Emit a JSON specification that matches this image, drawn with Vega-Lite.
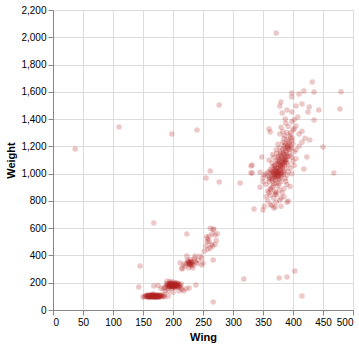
{
  "$schema": "https://vega.github.io/schema/vega-lite/v6.json",
  "width": 300,
  "height": 300,
  "data": {
    "values": [
      {"Wing":37,"Weight":1181},{"Wing":110,"Weight":1342},{"Wing":198,"Weight":1291},{"Wing":372,"Weight":2031},{"Wing":277,"Weight":1503},{"Wing":240,"Weight":1320},{"Wing":262,"Weight":1020},{"Wing":255,"Weight":968},{"Wing":312,"Weight":931},{"Wing":277,"Weight":939},{"Wing":318,"Weight":227},{"Wing":377,"Weight":235},{"Wing":390,"Weight":242},{"Wing":403,"Weight":286},{"Wing":415,"Weight":103},{"Wing":267,"Weight":59},{"Wing":468,"Weight":1004},{"Wing":330,"Weight":1056},{"Wing":330,"Weight":1004},{"Wing":335,"Weight":741},{"Wing":350,"Weight":733},{"Wing":480,"Weight":1600},{"Wing":478,"Weight":1474},{"Wing":432,"Weight":1672},{"Wing":450,"Weight":1195},
      {"Wing":152,"Weight":95},{"Wing":155,"Weight":100},{"Wing":157,"Weight":104},{"Wing":158,"Weight":98},{"Wing":160,"Weight":102},{"Wing":161,"Weight":108},{"Wing":162,"Weight":96},{"Wing":163,"Weight":100},{"Wing":164,"Weight":105},{"Wing":165,"Weight":110},{"Wing":166,"Weight":99},{"Wing":167,"Weight":103},{"Wing":168,"Weight":107},{"Wing":169,"Weight":95},{"Wing":170,"Weight":101},{"Wing":171,"Weight":104},{"Wing":172,"Weight":98},{"Wing":173,"Weight":108},{"Wing":174,"Weight":102},{"Wing":175,"Weight":96},{"Wing":176,"Weight":105},{"Wing":177,"Weight":100},{"Wing":178,"Weight":110},{"Wing":180,"Weight":103},{"Wing":182,"Weight":99},{"Wing":156,"Weight":110},{"Wing":159,"Weight":92},{"Wing":162,"Weight":112},{"Wing":165,"Weight":93},{"Wing":168,"Weight":114},{"Wing":171,"Weight":92},{"Wing":174,"Weight":112},{"Wing":177,"Weight":93},{"Wing":160,"Weight":97},{"Wing":163,"Weight":106},{"Wing":166,"Weight":104},{"Wing":169,"Weight":100},{"Wing":172,"Weight":105},{"Wing":175,"Weight":101},{"Wing":178,"Weight":97},{"Wing":161,"Weight":101},{"Wing":164,"Weight":98},{"Wing":167,"Weight":96},{"Wing":170,"Weight":107},{"Wing":173,"Weight":95},{"Wing":176,"Weight":99},{"Wing":179,"Weight":106},{"Wing":158,"Weight":106},{"Wing":165,"Weight":102},{"Wing":170,"Weight":97},{"Wing":154,"Weight":103},{"Wing":181,"Weight":108},{"Wing":184,"Weight":100},{"Wing":186,"Weight":96},{"Wing":150,"Weight":98},{"Wing":167,"Weight":118},{"Wing":185,"Weight":112},{"Wing":192,"Weight":103},
      {"Wing":158,"Weight":101},{"Wing":163,"Weight":103},{"Wing":168,"Weight":99},{"Wing":173,"Weight":101},{"Wing":160,"Weight":105},{"Wing":166,"Weight":107},{"Wing":171,"Weight":100},{"Wing":176,"Weight":103},{"Wing":162,"Weight":99},{"Wing":167,"Weight":101},{"Wing":172,"Weight":103},{"Wing":157,"Weight":99},
      {"Wing":188,"Weight":170},{"Wing":190,"Weight":180},{"Wing":192,"Weight":175},{"Wing":194,"Weight":185},{"Wing":195,"Weight":190},{"Wing":196,"Weight":170},{"Wing":197,"Weight":180},{"Wing":198,"Weight":195},{"Wing":199,"Weight":175},{"Wing":200,"Weight":185},{"Wing":201,"Weight":165},{"Wing":202,"Weight":190},{"Wing":203,"Weight":178},{"Wing":204,"Weight":200},{"Wing":205,"Weight":182},{"Wing":206,"Weight":170},{"Wing":207,"Weight":188},{"Wing":208,"Weight":176},{"Wing":209,"Weight":195},{"Wing":210,"Weight":180},{"Wing":192,"Weight":160},{"Wing":194,"Weight":195},{"Wing":196,"Weight":200},{"Wing":198,"Weight":160},{"Wing":200,"Weight":205},{"Wing":202,"Weight":170},{"Wing":204,"Weight":165},{"Wing":206,"Weight":198},{"Wing":208,"Weight":190},{"Wing":193,"Weight":182},{"Wing":195,"Weight":172},{"Wing":197,"Weight":192},{"Wing":199,"Weight":188},{"Wing":201,"Weight":178},{"Wing":203,"Weight":192},{"Wing":205,"Weight":172},{"Wing":207,"Weight":180},{"Wing":209,"Weight":168},{"Wing":191,"Weight":188},{"Wing":211,"Weight":185},{"Wing":212,"Weight":172},{"Wing":189,"Weight":192},{"Wing":186,"Weight":165},{"Wing":213,"Weight":160},{"Wing":198,"Weight":178},{"Wing":200,"Weight":170},{"Wing":202,"Weight":183},{"Wing":196,"Weight":185},{"Wing":194,"Weight":178},{"Wing":204,"Weight":186},
      {"Wing":195,"Weight":180},{"Wing":198,"Weight":185},{"Wing":201,"Weight":190},{"Wing":197,"Weight":175},{"Wing":199,"Weight":182},{"Wing":203,"Weight":185},{"Wing":196,"Weight":192},{"Wing":200,"Weight":178},{"Wing":202,"Weight":176},{"Wing":194,"Weight":188},{"Wing":206,"Weight":184},{"Wing":193,"Weight":170},
      {"Wing":187,"Weight":140},{"Wing":184,"Weight":155},{"Wing":215,"Weight":150},{"Wing":218,"Weight":140},{"Wing":214,"Weight":190},{"Wing":192,"Weight":140},{"Wing":200,"Weight":130},{"Wing":210,"Weight":140},{"Wing":175,"Weight":180},{"Wing":180,"Weight":160},{"Wing":168,"Weight":176},{"Wing":143,"Weight":169},{"Wing":145,"Weight":323},{"Wing":168,"Weight":638},{"Wing":222,"Weight":155},{"Wing":195,"Weight":210},{"Wing":190,"Weight":210},{"Wing":238,"Weight":183},{"Wing":227,"Weight":161},
      {"Wing":215,"Weight":300},{"Wing":220,"Weight":320},{"Wing":222,"Weight":340},{"Wing":225,"Weight":350},{"Wing":227,"Weight":345},{"Wing":228,"Weight":335},{"Wing":230,"Weight":355},{"Wing":232,"Weight":345},{"Wing":233,"Weight":330},{"Wing":235,"Weight":360},{"Wing":224,"Weight":365},{"Wing":229,"Weight":370},{"Wing":231,"Weight":325},{"Wing":226,"Weight":310},{"Wing":238,"Weight":350},{"Wing":240,"Weight":340},{"Wing":236,"Weight":380},{"Wing":242,"Weight":365},{"Wing":218,"Weight":335},{"Wing":245,"Weight":395},{"Wing":212,"Weight":345},{"Wing":248,"Weight":330},{"Wing":250,"Weight":345},{"Wing":267,"Weight":367},{"Wing":223,"Weight":396},{"Wing":237,"Weight":396},{"Wing":248,"Weight":381},{"Wing":215,"Weight":308},{"Wing":233,"Weight":308},{"Wing":228,"Weight":348},{"Wing":230,"Weight":340},{"Wing":226,"Weight":338},{"Wing":228,"Weight":342},{"Wing":231,"Weight":350},{"Wing":226,"Weight":355},{"Wing":229,"Weight":330},
      {"Wing":223,"Weight":557},{"Wing":252,"Weight":430},{"Wing":255,"Weight":470},{"Wing":257,"Weight":500},{"Wing":258,"Weight":520},{"Wing":260,"Weight":540},{"Wing":262,"Weight":455},{"Wing":264,"Weight":480},{"Wing":265,"Weight":560},{"Wing":268,"Weight":590},{"Wing":270,"Weight":550},{"Wing":272,"Weight":510},{"Wing":258,"Weight":445},{"Wing":262,"Weight":600},{"Wing":266,"Weight":470},{"Wing":256,"Weight":535},{"Wing":270,"Weight":480},{"Wing":274,"Weight":560},{"Wing":260,"Weight":505},{"Wing":267,"Weight":594},
      {"Wing":352,"Weight":760},{"Wing":365,"Weight":770},{"Wing":372,"Weight":790},{"Wing":358,"Weight":800},{"Wing":368,"Weight":820},{"Wing":378,"Weight":805},{"Wing":385,"Weight":830},{"Wing":362,"Weight":840},{"Wing":372,"Weight":845},{"Wing":355,"Weight":830},{"Wing":390,"Weight":790},{"Wing":380,"Weight":760},{"Wing":368,"Weight":748},{"Wing":362,"Weight":770},{"Wing":370,"Weight":755},{"Wing":380,"Weight":821},{"Wing":392,"Weight":799},
      {"Wing":360,"Weight":860},{"Wing":370,"Weight":870},{"Wing":378,"Weight":880},{"Wing":365,"Weight":900},{"Wing":375,"Weight":910},{"Wing":385,"Weight":890},{"Wing":355,"Weight":920},{"Wing":368,"Weight":930},{"Wing":380,"Weight":940},{"Wing":390,"Weight":920},{"Wing":372,"Weight":860},{"Wing":362,"Weight":890},{"Wing":382,"Weight":860},{"Wing":358,"Weight":870},{"Wing":395,"Weight":905},{"Wing":345,"Weight":900},{"Wing":350,"Weight":940},{"Wing":376,"Weight":925},{"Wing":388,"Weight":945},{"Wing":366,"Weight":945},
      {"Wing":360,"Weight":960},{"Wing":365,"Weight":980},{"Wing":370,"Weight":990},{"Wing":375,"Weight":1000},{"Wing":380,"Weight":1010},{"Wing":385,"Weight":1020},{"Wing":372,"Weight":970},{"Wing":378,"Weight":960},{"Wing":368,"Weight":1010},{"Wing":362,"Weight":1030},{"Wing":355,"Weight":1000},{"Wing":390,"Weight":990},{"Wing":395,"Weight":1040},{"Wing":382,"Weight":1045},{"Wing":374,"Weight":1035},{"Wing":366,"Weight":1050},{"Wing":358,"Weight":985},{"Wing":387,"Weight":965},{"Wing":376,"Weight":980},{"Wing":370,"Weight":1020},{"Wing":380,"Weight":975},{"Wing":384,"Weight":995},{"Wing":363,"Weight":1005},{"Wing":371,"Weight":955},{"Wing":379,"Weight":1030},{"Wing":392,"Weight":1015},{"Wing":350,"Weight":970},{"Wing":345,"Weight":1010},{"Wing":398,"Weight":1000},{"Wing":372,"Weight":1000},{"Wing":377,"Weight":1015},{"Wing":369,"Weight":975},{"Wing":381,"Weight":990},{"Wing":367,"Weight":995},{"Wing":373,"Weight":1012},{"Wing":361,"Weight":972},{"Wing":375,"Weight":962},{"Wing":383,"Weight":1008},{"Wing":364,"Weight":1018},{"Wing":369,"Weight":1040},{"Wing":377,"Weight":992},{"Wing":386,"Weight":1035},{"Wing":359,"Weight":1012},{"Wing":352,"Weight":990},{"Wing":374,"Weight":985},{"Wing":380,"Weight":1000},{"Wing":366,"Weight":965},{"Wing":371,"Weight":1028},
      {"Wing":368,"Weight":1000},{"Wing":372,"Weight":1020},{"Wing":376,"Weight":1040},{"Wing":380,"Weight":1060},{"Wing":384,"Weight":1080},{"Wing":388,"Weight":1100},{"Wing":375,"Weight":1010},{"Wing":379,"Weight":1050},{"Wing":383,"Weight":1070},{"Wing":387,"Weight":1090},{"Wing":370,"Weight":985},{"Wing":374,"Weight":1005},{"Wing":378,"Weight":1025},{"Wing":382,"Weight":1065},{"Wing":386,"Weight":1105},{"Wing":390,"Weight":1125},{"Wing":371,"Weight":1045},{"Wing":377,"Weight":1085},{"Wing":381,"Weight":1115},{"Wing":385,"Weight":1135},{"Wing":389,"Weight":1160},{"Wing":393,"Weight":1180},{"Wing":373,"Weight":990},{"Wing":366,"Weight":1015},{"Wing":369,"Weight":1060},{"Wing":391,"Weight":1200},{"Wing":394,"Weight":1225},{"Wing":397,"Weight":1190},{"Wing":384,"Weight":1150},{"Wing":388,"Weight":1210},{"Wing":392,"Weight":1240},{"Wing":396,"Weight":1300},{"Wing":399,"Weight":1260},{"Wing":386,"Weight":1280},{"Wing":402,"Weight":1330},{"Wing":376,"Weight":1068},{"Wing":364,"Weight":960},{"Wing":360,"Weight":940},{"Wing":367,"Weight":910},{"Wing":372,"Weight":930},{"Wing":363,"Weight":880},{"Wing":370,"Weight":850},{"Wing":375,"Weight":1120},{"Wing":379,"Weight":1150},{"Wing":383,"Weight":1180},
      {"Wing":370,"Weight":1060},{"Wing":378,"Weight":1070},{"Wing":385,"Weight":1080},{"Wing":390,"Weight":1100},{"Wing":375,"Weight":1090},{"Wing":382,"Weight":1110},{"Wing":368,"Weight":1120},{"Wing":395,"Weight":1130},{"Wing":388,"Weight":1140},{"Wing":373,"Weight":1150},{"Wing":380,"Weight":1125},{"Wing":392,"Weight":1065},{"Wing":365,"Weight":1080},{"Wing":360,"Weight":1100},{"Wing":400,"Weight":1090},{"Wing":386,"Weight":1060},{"Wing":377,"Weight":1105},{"Wing":383,"Weight":1145},{"Wing":372,"Weight":1095},{"Wing":398,"Weight":1120},{"Wing":405,"Weight":1110},{"Wing":376,"Weight":1130},{"Wing":389,"Weight":1080},{"Wing":394,"Weight":1150},{"Wing":366,"Weight":1140},{"Wing":402,"Weight":1060},{"Wing":348,"Weight":1122},{"Wing":332,"Weight":1063},{"Wing":332,"Weight":1004},{"Wing":418,"Weight":1034},{"Wing":423,"Weight":1122},{"Wing":381,"Weight":1088},{"Wing":387,"Weight":1118},{"Wing":379,"Weight":1055},{"Wing":374,"Weight":1075},{"Wing":391,"Weight":1128},{"Wing":384,"Weight":1098},
      {"Wing":380,"Weight":1160},{"Wing":388,"Weight":1170},{"Wing":395,"Weight":1180},{"Wing":385,"Weight":1200},{"Wing":392,"Weight":1210},{"Wing":400,"Weight":1220},{"Wing":378,"Weight":1190},{"Wing":383,"Weight":1230},{"Wing":398,"Weight":1240},{"Wing":405,"Weight":1175},{"Wing":390,"Weight":1250},{"Wing":375,"Weight":1215},{"Wing":410,"Weight":1200},{"Wing":387,"Weight":1185},{"Wing":396,"Weight":1205},{"Wing":372,"Weight":1175},{"Wing":402,"Weight":1160},{"Wing":415,"Weight":1230},{"Wing":428,"Weight":1247},{"Wing":391,"Weight":1190},{"Wing":386,"Weight":1222},
      {"Wing":385,"Weight":1260},{"Wing":395,"Weight":1280},{"Wing":390,"Weight":1300},{"Wing":400,"Weight":1320},{"Wing":380,"Weight":1340},{"Wing":405,"Weight":1350},{"Wing":388,"Weight":1370},{"Wing":410,"Weight":1290},{"Wing":378,"Weight":1290},{"Wing":398,"Weight":1380},{"Wing":392,"Weight":1345},{"Wing":415,"Weight":1310},{"Wing":420,"Weight":1260},{"Wing":383,"Weight":1310},{"Wing":402,"Weight":1395},{"Wing":396,"Weight":1265},{"Wing":360,"Weight":1327},{"Wing":362,"Weight":1305},
      {"Wing":435,"Weight":1393},{"Wing":387,"Weight":1400},{"Wing":408,"Weight":1415},{"Wing":390,"Weight":1467},{"Wing":425,"Weight":1452},{"Wing":382,"Weight":1445},{"Wing":398,"Weight":1452},{"Wing":443,"Weight":1467},{"Wing":427,"Weight":1489},{"Wing":405,"Weight":1496},{"Wing":415,"Weight":1511},{"Wing":378,"Weight":1496},{"Wing":380,"Weight":1525},{"Wing":398,"Weight":1562},{"Wing":410,"Weight":1584},{"Wing":398,"Weight":1591},{"Wing":418,"Weight":1606},{"Wing":435,"Weight":1599}
    ]
  },
  "mark": {"type": "circle", "color": "firebrick", "opacity": 0.25},
  "encoding": {
    "x": {"field": "Wing", "type": "quantitative"},
    "y": {"field": "Weight", "type": "quantitative"}
  }
}
